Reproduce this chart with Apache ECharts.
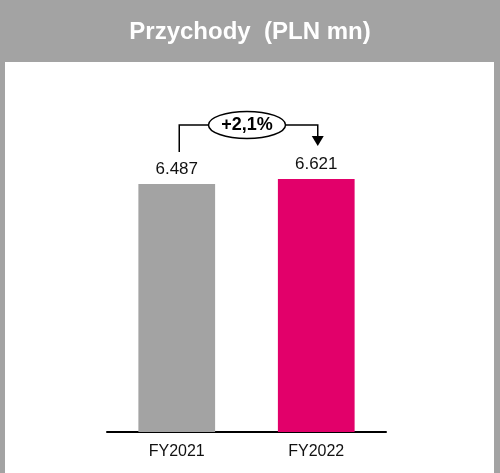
<!DOCTYPE html>
<html><head><meta charset="utf-8">
<script src="https://cdn.jsdelivr.net/npm/echarts@6/dist/echarts.min.js"></script>
<style>html,body{margin:0;padding:0;background:#a3a3a3;}#c{width:500px;height:473px;}</style>
</head><body><div id="c"></div>
<script>
const title = 'Przychody  (PLN mn)';
const categories = ['FY2021', 'FY2022'];
const values = [6487, 6621];
const barColors = ['#a3a3a3', '#e2006a'];
const changeLabel = '+2,1%';

const fmt = v => (v / 1000).toFixed(3);

const chart = echarts.init(document.getElementById('c'));
const option = {
  animation: false,
  backgroundColor: '#a3a3a3',
  graphic: [
    { type: 'rect', z: -10, shape: { x: 5, y: 62, width: 489, height: 420 }, style: { fill: '#ffffff' } },
    { type: 'text', left: 'center', top: 20, style: { text: title, fill: '#ffffff', font: 'bold 24px "Liberation Sans Narrow", "Arial Narrow", "Liberation Sans", sans-serif', shadowColor: 'rgba(0,0,0,0.35)', shadowBlur: 2, shadowOffsetX: 1, shadowOffsetY: 1 } }
  ],
  grid: { left: 107, width: 279, top: 164.4, bottom: 41, containLabel: false },
  xAxis: {
    type: 'category', data: categories,
    axisLine: { lineStyle: { color: '#000', width: 2 } },
    axisTick: { show: false },
    axisLabel: { color: '#111', fontSize: 16, fontFamily: 'Liberation Sans, Arial, sans-serif', margin: 12 }
  },
  yAxis: { type: 'value', min: 0, max: 7000, show: false, splitLine: { show: false } },
  series: [{
    type: 'bar', barWidth: '55%',
    data: values.map((v, i) => ({ value: v, itemStyle: { color: barColors[i] } })),
    label: { show: true, position: 'top', distance: 6, color: '#111', fontSize: 17, fontFamily: 'Liberation Sans, Arial, sans-serif', formatter: p => fmt(p.value) }
  }]
};
chart.setOption(option);

// annotation placed via the chart's own scales
const p0 = chart.convertToPixel({ seriesIndex: 0 }, [0, values[0]]);
const p1 = chart.convertToPixel({ seriesIndex: 0 }, [1, values[1]]);
const lineY = p1[1] - 54;
const cx = (p0[0] + p1[0]) / 2 + 0.5;
const rx = 38.5, ry = 13.5;
chart.setOption({
  graphic: option.graphic.concat([
    { type: 'polyline', shape: { points: [[p0[0] + 2.5, p0[1] - 32], [p0[0] + 2.5, lineY], [cx - rx, lineY]] }, style: { stroke: '#000', lineWidth: 1.5, fill: null } },
    { type: 'polyline', shape: { points: [[cx + rx, lineY], [p1[0] + 1.5, lineY], [p1[0] + 1.5, lineY + 12]] }, style: { stroke: '#000', lineWidth: 1.5, fill: null } },
    { type: 'polygon', shape: { points: [[p1[0] - 4.5, lineY + 11], [p1[0] + 7.5, lineY + 11], [p1[0] + 1.5, lineY + 21]] }, style: { fill: '#000' } },
    { type: 'ellipse', shape: { cx: cx, cy: lineY, rx: rx, ry: ry }, style: { fill: '#fff', stroke: '#000', lineWidth: 1.5 } },
    { type: 'text', x: cx, y: lineY, style: { text: changeLabel, align: 'center', verticalAlign: 'middle', fill: '#000', font: 'bold 18px "Liberation Sans", Arial, sans-serif' } }
  ])
});
</script></body></html>
